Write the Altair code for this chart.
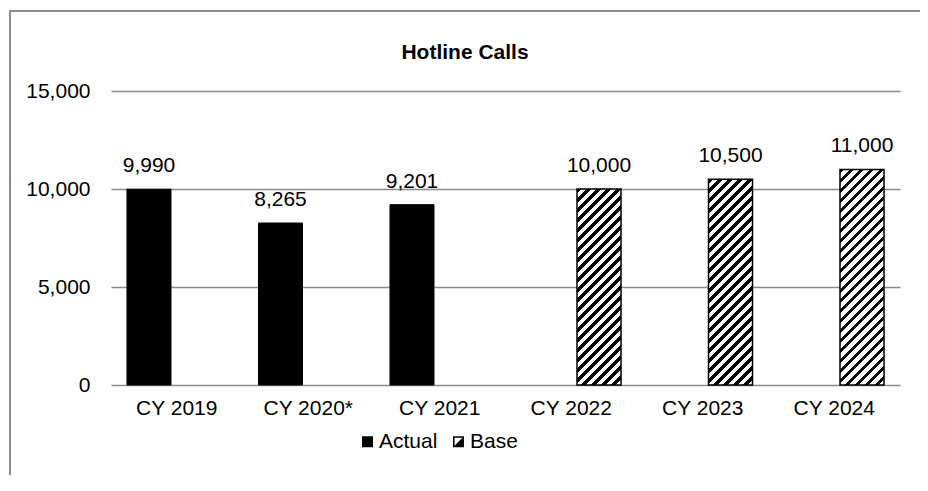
import math
import altair as alt
import pandas as pd

# ---- data ----
categories = ["CY 2019", "CY 2020*", "CY 2021", "CY 2022", "CY 2023", "CY 2024"]
series = ["Actual", "Actual", "Actual", "Base", "Base", "Base"]
values = [9990, 8265, 9201, 10000, 10500, 11000]
series_names = ["Actual", "Base"]
y_ticks = [0, 5000, 10000, 15000]
title_text = "Hotline Calls"

df = pd.DataFrame({"category": categories, "series": series, "value": values})

# ---- layout / style ----
W, H = 789, 294
Y_MAX = 15000
FONT = "Liberation Sans, Arial, sans-serif"
FS = 21
GRID = "#8c8c8c"
PI_X, PO_X = 0.243, 0.1215
PI_OFF = 0.207

step = W / (len(categories) - PI_X + 2 * PO_X)
bandw = step * (1 - PI_X)
sub_step = bandw / (2 - PI_OFF)
sub_w = sub_step * (1 - PI_OFF)


def hatch(w, h, period=10.0, black=0.45):
    n = int(math.ceil((w + h) / period))
    L = n * period
    t = L / (w * w + h * h)
    stops = []
    for k in range(n):
        a, b, c = k / n, (k + black) / n, (k + 1) / n
        stops += [
            alt.GradientStop(offset=a, color="black"),
            alt.GradientStop(offset=b, color="black"),
            alt.GradientStop(offset=b, color="white"),
            alt.GradientStop(offset=c, color="white"),
        ]
    return alt.LinearGradient(gradient="linear", x1=0, y1=0, x2=t * w, y2=t * h, stops=stops)


x_enc = alt.X(
    "category:N",
    sort=categories,
    scale=alt.Scale(domain=categories, paddingInner=PI_X, paddingOuter=PO_X),
    axis=alt.Axis(title=None, labelFontSize=FS, labelFont=FONT, labelColor="black",
                  labelPadding=12, ticks=False, domain=False, labelAngle=0, grid=False),
)
xo_enc = alt.XOffset(
    "series:N",
    scale=alt.Scale(domain=series_names, paddingInner=PI_OFF, paddingOuter=0),
)
y_enc = alt.Y(
    "value:Q",
    scale=alt.Scale(domain=[0, Y_MAX], nice=False, zero=True),
    axis=alt.Axis(values=y_ticks, format=",.0f", title=None, labelFontSize=FS, labelFont=FONT,
                  labelColor="black", labelPadding=21, ticks=False, domain=False,
                  gridColor=GRID, gridWidth=1.5),
)

base = alt.Chart(df)
one = alt.Data(values=[{}])

border = alt.Chart(one).mark_rect(
    fillOpacity=0, stroke=GRID, strokeWidth=2
).encode(
    x=alt.value(-101), x2=alt.value(W + 200), y=alt.value(-80), y2=alt.value(H + 200)
)

title = alt.Chart(one).mark_text(
    text=title_text, fontSize=FS, fontWeight="bold", font=FONT, color="black",
    align="center", baseline="alphabetic"
).encode(x=alt.value(354), y=alt.value(-32))

actual_bars = base.transform_filter(alt.datum.series == "Actual").mark_bar(
    fill="black", stroke="black", strokeWidth=1
).encode(x=x_enc, xOffset=xo_enc, y=y_enc)

layers = [border, title, actual_bars]

for cat, ser, val in zip(categories, series, values):
    if ser != "Base":
        continue
    h = val / Y_MAX * H
    layers.append(
        base.transform_filter(alt.datum.category == cat).mark_bar(
            fill=hatch(sub_w, h), stroke="black", strokeWidth=1.5
        ).encode(x=x_enc, xOffset=xo_enc, y=y_enc)
    )

labels = base.mark_text(
    fontSize=FS, font=FONT, color="black", baseline="alphabetic", dy=-17
).encode(x=x_enc, xOffset=xo_enc, y=y_enc, text=alt.Text("value:Q", format=","))
layers.append(labels)

BASE_PATH = ("M-1,-1L1,-1L1,1L-1,1Z"
             "M-0.72,-0.72L-0.72,0.72L0.72,0.72L0.72,-0.72Z"
             "M0.72,-0.72L0.72,0.72L-0.72,0.72Z")
leg = alt.Legend(
    title=None, orient="none", legendX=246, legendY=340, direction="horizontal",
    labelFontSize=FS, labelFont=FONT, labelColor="black", symbolSize=121,
    symbolStrokeWidth=0, symbolOpacity=1, labelOffset=1, columnPadding=10,
)
legend_layer = base.transform_filter("false").mark_point(filled=True, opacity=1).encode(
    x=x_enc, xOffset=xo_enc, y=y_enc,
    shape=alt.Shape("series:N", scale=alt.Scale(domain=series_names, range=["square", BASE_PATH]), legend=leg),
    fill=alt.Fill("series:N", scale=alt.Scale(domain=series_names, range=["black", "black"]), legend=leg),
)
layers.append(legend_layer)

chart = alt.layer(*layers).properties(
    width=W,
    height=H,
    autosize="none",
    padding={"left": 103, "top": 83, "right": 20, "bottom": 90},
    background="white",
).configure_view(stroke=None)

chart.save("out.html", embed_options={"renderer": "svg", "actions": False})
